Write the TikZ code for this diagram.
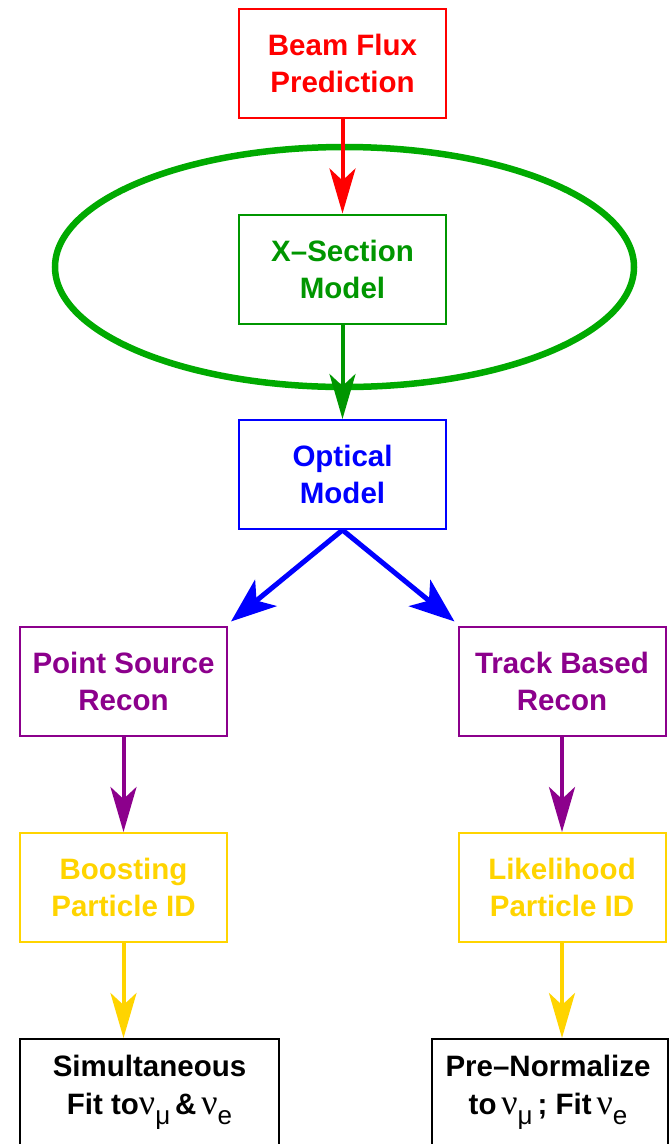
\documentclass[tikz,border=0pt]{standalone}
\usepackage{fontspec}
\setmainfont{Liberation Sans}
\newfontfamily\boxfont{Liberation Sans}
\newfontfamily\grfont{Liberation Serif}
\usetikzlibrary{arrows.meta,calc}
\definecolor{cred}{RGB}{255,0,0}
\definecolor{cgreen}{RGB}{0,150,0}
\definecolor{cellip}{RGB}{0,170,0}
\definecolor{cblue}{RGB}{0,0,255}
\definecolor{cpurple}{RGB}{140,0,140}
\definecolor{cgold}{RGB}{255,212,0}
\newcommand\myNu[1]{{\grfont\mdseries\fontsize{36}{36}\selectfont ν}\raisebox{-10pt}{\fontsize{26}{26}\selectfont\mdseries #1}}
\begin{document}
\begin{tikzpicture}[x=1pt,y=-1pt,
  box/.style={draw=#1, text=#1, line width=2pt, minimum width=207pt, minimum height=109pt,
    align=center, inner sep=0pt, font=\boxfont\bfseries\fontsize{29.5}{37}\selectfont},
  blackbox/.style={draw=black, line width=2pt, minimum height=120pt, anchor=north, inner sep=0pt},
  btext/.style={align=center, inner sep=0pt, font=\boxfont\bfseries\fontsize{29.5}{38}\selectfont},
  arr/.style={draw=#1, line width=4pt, -{Stealth[length=45pt,width=26pt,inset=12pt]}},
  barr/.style={draw=cblue, line width=5pt, -{Stealth[length=45pt,width=34pt,inset=12pt]}}]
\useasboundingbox (0,0) rectangle (669,1144);
\draw[cellip, line width=6.5pt] (344.5,267) ellipse [x radius=289.5pt, y radius=120pt];
\node[box=cred] (beam) at (342.5,63.5) {Beam Flux\\Prediction};
\node[box=cgreen] (xsec) at (342.5,269) {X–Section\\Model};
\node[box=cblue] (opt) at (342.5,474.5) {Optical\\Model};
\node[box=cpurple] (ps) at (123.5,681) {Point Source\\Recon};
\node[box=cpurple] (tb) at (562,681) {Track Based\\Recon};
\node[box=cgold] (boost) at (123.5,887.5) {Boosting\\Particle ID};
\node[box=cgold] (like) at (562,887.5) {Likelihood\\Particle ID};
\node[blackbox, minimum width=259pt] (simbox) at (149.5,1038) {};
\node[blackbox, minimum width=236pt] (prebox) at (550,1038) {};
\node[btext] (simtxt) at (149.5,1092) {Simultaneous\\Fit to\myNu{μ}\,\&\,\myNu{e}};
\node[btext] (pretxt) at (548,1092) {Pre–Normalize\\to\,\myNu{μ}\,; Fit\,\myNu{e}};
\draw[arr=cred] (beam.south) -- (xsec.north);
\draw[arr=cgreen] (xsec.south) -- (opt.north);
\draw[barr] (opt.south) -- ($(ps.north east)+(3,-4)$);
\draw[barr] (opt.south) -- ($(tb.north west)+(-3,-4)$);
\draw[arr=cpurple] (ps.south) -- (boost.north);
\draw[arr=cpurple] (tb.south) -- (like.north);
\draw[arr=cgold] (boost.south) -- (boost.south |- simbox.north);
\draw[arr=cgold] (like.south) -- (like.south |- prebox.north);
\end{tikzpicture}
\end{document}
